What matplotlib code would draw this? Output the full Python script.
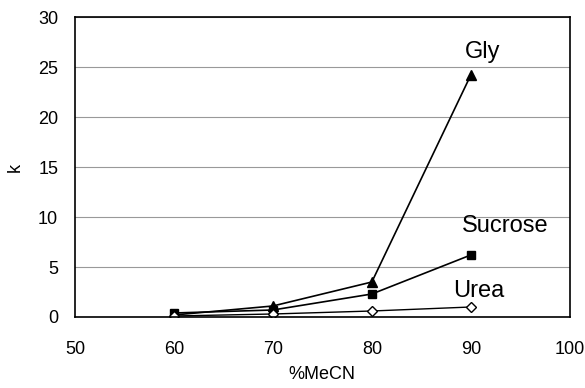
import matplotlib
matplotlib.use("Agg")
import matplotlib.pyplot as plt

plt.rcParams['font.family'] = ['Liberation Sans', 'DejaVu Sans']

mecn = [60, 70, 80, 90]
gly = [0.2, 1.1, 3.5, 24.2]
sucrose = [0.4, 0.7, 2.3, 6.2]
urea = [0.1, 0.3, 0.6, 1.0]

fig = plt.figure(figsize=(5.85, 3.88), dpi=100)
ax = fig.add_axes([0.128, 0.183, 0.846, 0.773])

ax.plot(mecn, gly, color='black', lw=1.2, marker='^', ms=7)
ax.plot(mecn, sucrose, color='black', lw=1.2, marker='s', ms=6)
ax.plot(mecn, urea, color='black', lw=1.0, marker='D', ms=5,
        markerfacecolor='white', markeredgewidth=1.0)

# series labels next to the curves
ax.text(91.2, 25.9, 'Gly', fontsize=17, ha='center', va='baseline')
ax.text(93.5, 8.5, 'Sucrose', fontsize=17, ha='center', va='baseline')
ax.text(90.8, 2.0, 'Urea', fontsize=17, ha='center', va='baseline')

ax.set_xlim(50, 100)
ax.set_ylim(0, 30)
ax.set_xticks([50, 60, 70, 80, 90, 100])
ax.set_yticks([0, 5, 10, 15, 20, 25, 30])
ax.yaxis.grid(True, color='#999999', lw=0.8)
ax.set_axisbelow(True)
ax.tick_params(length=0, labelsize=13)
ax.tick_params(axis='x', pad=17)
ax.tick_params(axis='y', pad=12)
ax.set_xlabel('%MeCN', fontsize=13, labelpad=6)
ax.set_ylabel('k', fontsize=13, labelpad=10)
for s in ax.spines.values():
    s.set_linewidth(1.2)

fig.savefig('out.png', dpi=100)
